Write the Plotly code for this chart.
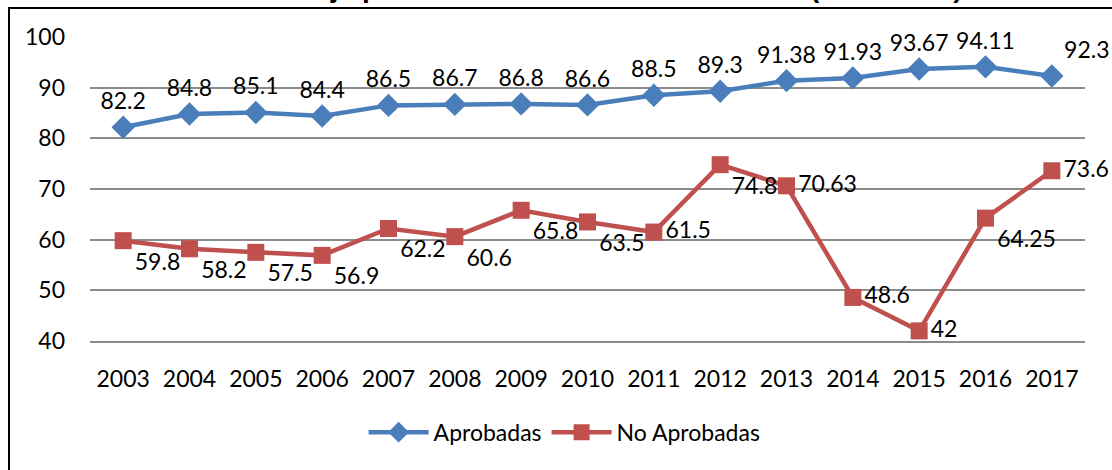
import plotly.graph_objects as go

# chart data
years = ["2003", "2004", "2005", "2006", "2007", "2008", "2009", "2010",
         "2011", "2012", "2013", "2014", "2015", "2016", "2017"]
aprobadas = [82.2, 84.8, 85.1, 84.4, 86.5, 86.7, 86.8, 86.6,
             88.5, 89.3, 91.38, 91.93, 93.67, 94.11, 92.3]
no_aprobadas = [59.8, 58.2, 57.5, 56.9, 62.2, 60.6, 65.8, 63.5,
                61.5, 74.8, 70.63, 48.6, 42, 64.25, 73.6]
title_text = "Porcentaje promedio de las notas evaluadas (2003-2017)"

BLUE = "#4a7ebb"
RED = "#c0504d"
FONT = "Lato, Open Sans, sans-serif"

# label placement, one entry per year
pos_blue = ["top center"] * 14 + ["top right"]
pos_red = (["bottom right"] * 8
           + ["middle right", "bottom right", "middle right", "middle right",
              "middle right", "bottom right", "middle right"])

fig = go.Figure()
fig.add_trace(go.Scatter(
    x=years, y=aprobadas, name="Aprobadas",
    mode="lines+markers+text",
    line=dict(color=BLUE, width=4.5),
    marker=dict(symbol="diamond", size=18, color=BLUE),
    text=[f"{v:g}" for v in aprobadas],
    textposition=pos_blue,
    textfont=dict(family=FONT, size=23, color="black"),
    cliponaxis=False,
))
fig.add_trace(go.Scatter(
    x=years, y=no_aprobadas, name="No Aprobadas",
    mode="lines+markers+text",
    line=dict(color=RED, width=4.5),
    marker=dict(symbol="square", size=17, color=RED),
    text=[f"{v:g}" for v in no_aprobadas],
    textposition=pos_red,
    textfont=dict(family=FONT, size=23, color="black"),
    cliponaxis=False,
))

fig.update_layout(
    width=1112, height=470,
    paper_bgcolor="white", plot_bgcolor="white",
    margin=dict(l=90, r=27, t=37, b=129),
    font=dict(family=FONT, size=23, color="black"),
    showlegend=True,
    legend=dict(
        orientation="h", x=0.477, xanchor="center", y=-0.3, yanchor="middle",
        font=dict(family=FONT, size=23, color="black"),
        itemwidth=60, bgcolor="rgba(0,0,0,0)",
    ),
    shapes=[dict(
        type="rect", xref="paper", yref="paper",
        x0=-0.0814, x1=1.2, y0=-0.6, y1=1.0954,
        line=dict(color="black", width=2), fillcolor="rgba(0,0,0,0)", layer="below",
    )],
    annotations=[dict(
        text=f"<b>{title_text}</b>", xref="paper", yref="paper",
        x=0.8794, xanchor="right", y=1.106, yanchor="bottom", showarrow=False,
        font=dict(family="Liberation Sans, Arial", size=28, color="black"),
    )],
)
fig.update_xaxes(
    range=[-0.5, 14.5],
    showgrid=False, showline=True, linecolor="#8c8c8c", linewidth=1.5,
    ticks="", ticklabelstandoff=17,
    tickfont=dict(family=FONT, size=23, color="black"),
)
fig.update_yaxes(
    range=[40, 100], dtick=10, showgrid=True, gridcolor="#8c8c8c", gridwidth=1.5,
    zeroline=False, showline=False, ticks="", ticklabelstandoff=24,
    tickfont=dict(family=FONT, size=23, color="black"),
)

fig.write_html("out.html", config={"displayModeBar": False},
               post_script="document.body.style.margin='0';")
